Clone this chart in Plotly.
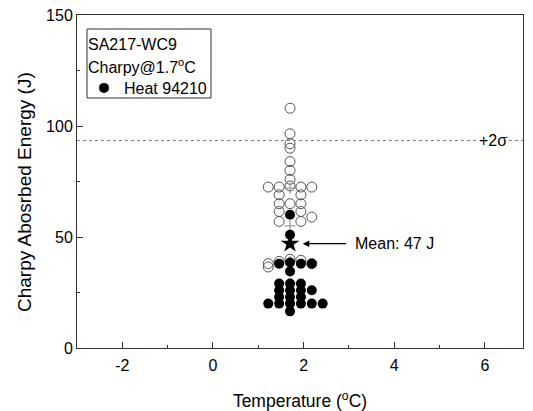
import plotly.graph_objects as go

# ---- data ----
open_x = [1.70, 1.70, 1.70, 1.70, 1.70, 1.70, 1.70, 1.70,
          1.22, 1.46, 1.94, 2.18,
          1.46, 1.94,
          1.46, 1.70, 1.94,
          1.46, 1.94,
          1.46, 1.94, 2.18,
          1.22, 1.22, 1.46, 1.70, 1.94, 2.18]
open_y = [108, 96.5, 92, 90, 84, 80, 76, 73,
          72.5, 72.5, 72.5, 72.5,
          69, 69,
          65, 65, 65,
          61.5, 61.5,
          57, 57, 59,
          38, 36.5, 39, 40, 39.5, 38]

heat_x = [1.70, 1.70, 1.70, 1.70, 1.70, 1.70, 1.70, 1.70, 1.70,
          1.46, 1.46, 1.46, 1.46, 1.46,
          1.94, 1.94, 1.94, 1.94, 1.94,
          2.18, 2.18, 2.18,
          1.22, 2.42]
heat_y = [60, 51, 38.5, 34.5, 29, 26, 23, 20, 16.5,
          38, 29, 26, 23, 20,
          38, 29, 26, 23, 20,
          38, 26, 20,
          20, 20]

plus_x = [1.70, 1.70, 1.70, 1.70]
plus_y = [72, 55, 39, 29]

mean_x = [1.7]
mean_y = [47]
two_sigma = 93.5

x_range = [-3, 6.84]
y_range = [0, 150]
x_ticks = [-2, 0, 2, 4, 6]
x_ticktext = ["-2", "0", "2", "4", "6"]
y_ticks = [0, 50, 100, 150]

FONT = "Liberation Sans, Arial, sans-serif"

# page body has an 8px margin; figure placed to compensate
OFF = 8
W, H = 533 - OFF, 411 - OFF
# desired plot area in window pixels: x 77..523, y 15..348
L, R, T, B = 77 - OFF, W - (523 - OFF), 15 - OFF, H - (348 - OFF)
PW, PH = W - L - R, H - T - B


def px(xp):  # window pixel -> paper x
    return (xp - 77) / PW


def py(yp):  # window pixel -> paper y
    return (348 - yp) / PH


fig = go.Figure()
fig.add_trace(go.Scatter(x=open_x, y=open_y, mode="markers", showlegend=False,
                         marker=dict(symbol="circle-open", size=10, color="#555",
                                     line=dict(width=1, color="#555"))))
fig.add_trace(go.Scatter(x=plus_x, y=plus_y, mode="markers", showlegend=False,
                         marker=dict(symbol="cross-thin-open", size=8, color="#888",
                                     line=dict(width=1, color="#888"))))
fig.add_trace(go.Scatter(x=heat_x, y=heat_y, mode="markers", name="Heat 94210",
                         marker=dict(symbol="circle", size=10, color="black")))
fig.add_trace(go.Scatter(x=mean_x, y=mean_y, mode="markers", showlegend=False,
                         marker=dict(symbol="star", size=14, color="black")))

fig.add_hline(y=two_sigma, line=dict(color="#777", width=1, dash="dot"))

fig.add_annotation(x=6.18, y=two_sigma, text="+2σ", showarrow=False,
                   bgcolor="white", font=dict(size=16, color="black", family=FONT))
fig.add_annotation(x=1.98, y=mean_y[0], ax=45, ay=0, text="", showarrow=True,
                   arrowhead=2, arrowsize=1, arrowwidth=1.3, arrowcolor="black")
fig.add_annotation(x=3.08, y=mean_y[0], text="Mean: 47 J", showarrow=False,
                   xanchor="left", yanchor="middle",
                   font=dict(size=16, color="black", family=FONT))

# y-axis title (placed as in the reference, slightly below plot centre)
fig.add_annotation(xref="paper", yref="paper", x=px(24), y=py(192),
                   text="Charpy Abosrbed Energy (J)", textangle=-90, showarrow=False,
                   xanchor="center", yanchor="middle",
                   font=dict(size=19, color="black", family=FONT))

# legend box
fig.add_shape(type="rect", xref="paper", yref="paper",
              x0=px(87), x1=px(211), y0=py(98), y1=py(29),
              line=dict(color="#333", width=1), fillcolor="white", layer="below")
fig.add_annotation(xref="paper", yref="paper", x=px(86), y=py(44),
                   text="SA217-WC9", showarrow=False, xanchor="left", yanchor="middle",
                   font=dict(size=16, color="black", family=FONT))
fig.add_annotation(xref="paper", yref="paper", x=px(86), y=py(66),
                   text="Charpy@1.7<sup>o</sup>C", showarrow=False, xanchor="left",
                   yanchor="middle", font=dict(size=16, color="black", family=FONT))

fig.update_layout(
    width=W, height=H,
    margin=dict(l=L, r=R, t=T, b=B),
    paper_bgcolor="white", plot_bgcolor="white",
    font=dict(family=FONT, size=16, color="black"),
    legend=dict(x=px(84), y=py(88), xanchor="left", yanchor="middle",
                bgcolor="rgba(0,0,0,0)", borderwidth=0,
                font=dict(size=16, family=FONT), itemwidth=30,
                tracegroupgap=0),
)
fig.update_xaxes(range=x_range, tickvals=x_ticks, ticktext=x_ticktext,
                 ticks="inside", ticklen=6, automargin=False, ticklabelstandoff=3,
                 showline=True, linecolor="#333", linewidth=1, mirror=True,
                 showgrid=False, zeroline=False,
                 minor=dict(ticks="inside", ticklen=3, dtick=1, tick0=-3, tickcolor="#333"),
                 tickcolor="#333", tickfont=dict(size=16),
                 title=dict(text="Temperature (<sup>o</sup>C)", standoff=22,
                            font=dict(size=17.5)))
fig.update_yaxes(range=y_range, tickvals=y_ticks, ticks="inside", ticklen=6,
                 automargin=False, ticklabeloverflow="allow",
                 showline=True, linecolor="#333", linewidth=1, mirror=True,
                 showgrid=False, zeroline=False,
                 minor=dict(ticks="inside", ticklen=3, dtick=25, tick0=0, tickcolor="#333"),
                 tickcolor="#333", tickfont=dict(size=16))

fig.write_html("out.html")
